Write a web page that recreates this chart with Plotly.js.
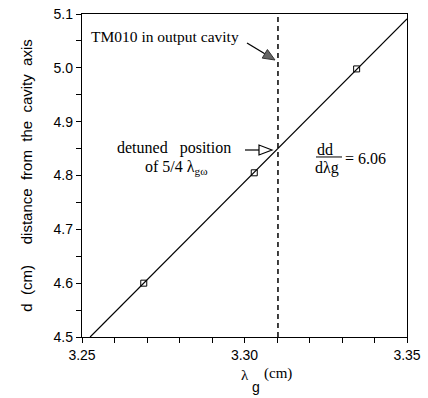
<!DOCTYPE html>
<html><head><meta charset="utf-8">
<script src="https://cdn.plot.ly/plotly-3.0.1.min.js"></script>
<style>body{margin:0;background:#fff}#c{width:428px;height:398px}</style>
</head><body><div id="c"></div>
<script>
const lambdaG = [3.269, 3.303, 3.3345];
const distance = [4.6, 4.805, 4.998];
const fitLambda = [3.2525, 3.35];
const fitD = [4.5, 5.091];
const detunedLambda = 3.3103;
const slopeText = '6.06';
const xRange = [3.25, 3.35];
const yRange = [4.5, 5.1];
const xTickVals = [3.25, 3.26, 3.27, 3.28, 3.29, 3.30, 3.31, 3.32, 3.33, 3.34, 3.35];
const xTickText = ['3.25', '', '', '', '', '3.30', '', '', '', '', '3.35'];
const yTickVals = [4.5, 4.55, 4.6, 4.65, 4.7, 4.75, 4.8, 4.85, 4.9, 4.95, 5.0, 5.05, 5.1];
const yTickText = ['4.5', '', '4.6', '', '4.7', '', '4.8', '', '4.9', '', '5.0', '', '5.1'];

const serif = 'Liberation Serif';
const sans = 'Liberation Sans';
const nb = s => s.replace(/ /g, '\u00a0');

const traces = [
  {x: fitLambda, y: fitD, mode: 'lines', line: {color: '#000', width: 1.2}, hoverinfo: 'skip'},
  {x: lambdaG, y: distance, mode: 'markers',
   marker: {symbol: 'square-open', size: 6, color: '#000', line: {width: 1}}},
  {x: [detunedLambda, detunedLambda], y: yRange, mode: 'lines',
   line: {color: '#000', width: 1.5, dash: '5px,4px'}}
];

// arrow decorations (annotation graphics, in data units)
const arrowShapes = [
  {type: 'line', x0: 3.30077, y0: 5.0461, x1: 3.30625, y1: 5.02607, line: {color: '#000', width: 1.3}},
  {type: 'path', path: 'M3.30938,5.01455 L3.30545,5.01810 L3.30705,5.03406 Z',
   fillcolor: '#666', line: {color: '#333', width: 1}},
  {type: 'line', x0: 3.30015, y0: 4.84737, x1: 3.30446, y1: 4.84737, line: {color: '#000', width: 1.2}},
  {type: 'path', path: 'M3.30846,4.84737 L3.30446,4.85666 L3.30446,4.83808 Z',
   fillcolor: '#fff', line: {color: '#000', width: 1.2}},
  {type: 'line', x0: 3.3220, x1: 3.3300, y0: 4.8344, y1: 4.8344, line: {color: '#000', width: 1}}
].map(s => Object.assign({xref: 'x', yref: 'y'}, s));

const ann = (x, y, text, o) => Object.assign({x, y, text, showarrow: false,
  xanchor: 'center', yanchor: 'middle',
  font: {family: serif, size: 16, color: '#000'}}, o || {});

const layout = {
  width: 428, height: 398,
  margin: {l: 82, r: 21, t: 14, b: 61},
  paper_bgcolor: '#fff', plot_bgcolor: '#fff',
  showlegend: false,
  xaxis: {
    range: xRange, tickmode: 'array', tickvals: xTickVals, ticktext: xTickText,
    showgrid: false, zeroline: false, showline: true, mirror: true,
    linecolor: '#000', linewidth: 1.2,
    ticks: 'outside', ticklen: 5, tickcolor: '#000', tickwidth: 1,
    tickfont: {family: sans, size: 14, color: '#000'}
  },
  yaxis: {
    range: yRange, tickmode: 'array', tickvals: yTickVals, ticktext: yTickText,
    showgrid: false, zeroline: false, showline: true, mirror: true,
    linecolor: '#000', linewidth: 1.2,
    ticks: 'outside', ticklen: 5, tickcolor: '#000', tickwidth: 1,
    tickfont: {family: sans, size: 14, color: '#000'},
    title: {text: nb('d  (cm)     distance  from  the  cavity  axis'),
            font: {family: sans, size: 15, color: '#000'}, standoff: 17}
  },
  annotations: [
    ann(3.2754, 5.0575, 'TM010 in output cavity', {font: {family: serif, size: 15.5, color: '#000'}}),
    ann(3.2783, 4.8505, nb('detuned   position')),
    ann(3.2790, 4.814, 'of 5/4 λ<sub>gω</sub>'),
    ann(3.32477, 4.8474, 'dd'),
    ann(3.3254, 4.8139, 'dλg'),
    ann(3.33738, 4.8307, '= ' + slopeText),
    ann(0.5015, -0.1176, 'λ', {xref: 'paper', yref: 'paper', font: {family: serif, size: 15, color: '#000'}}),
    ann(0.5354, -0.1560, 'g', {xref: 'paper', yref: 'paper', font: {family: sans, size: 14, color: '#000'}}),
    ann(0.6031, -0.1115, '(cm)', {xref: 'paper', yref: 'paper', font: {family: serif, size: 15, color: '#000'}})
  ],
  shapes: arrowShapes
};
Plotly.newPlot('c', traces, layout, {staticPlot: true, displayModeBar: false});
</script></body></html>
